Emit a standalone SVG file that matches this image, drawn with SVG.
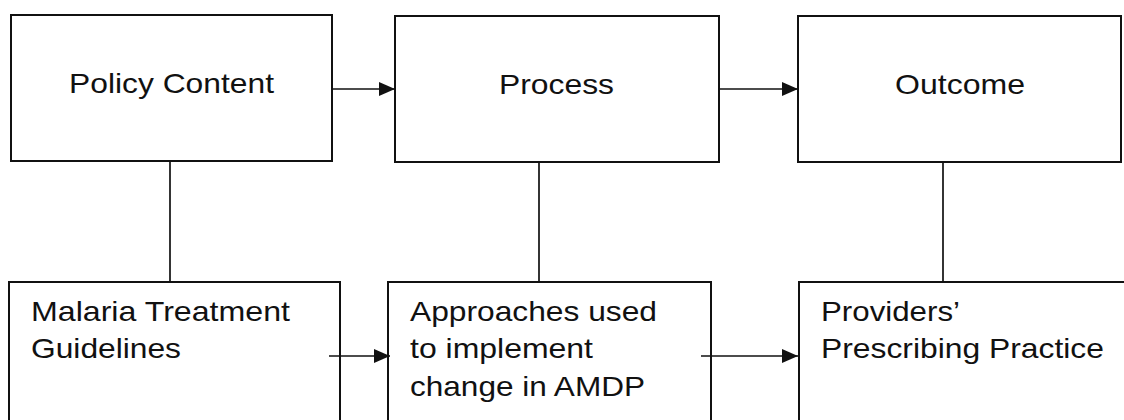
<svg xmlns="http://www.w3.org/2000/svg" width="1124" height="420" viewBox="0 0 1124 420">
<style>
.box{fill:#fff;stroke:#111;stroke-width:2}
.ln{fill:none;stroke:#111;stroke-width:1.7}
.t{font-family:"Liberation Sans",Arial,sans-serif;font-size:28.5px;fill:#111}
</style>
<defs>
<marker id="ah" viewBox="0 0 16 14" refX="16" refY="7" markerWidth="16" markerHeight="14" markerUnits="userSpaceOnUse" orient="auto">
<path d="M0,0 L16,7 L0,14 Z" fill="#111"/>
</marker>
</defs>
<rect width="1124" height="420" fill="#fff"/>
<g id="policy-content">
<rect class="box" x="11" y="15" width="321" height="146"/>
<text class="t" x="69" y="93" textLength="205" lengthAdjust="spacingAndGlyphs">Policy Content</text>
</g>
<g id="process">
<rect class="box" x="395" y="16" width="324" height="146"/>
<text class="t" x="499" y="93.5" textLength="115" lengthAdjust="spacingAndGlyphs">Process</text>
</g>
<g id="outcome">
<rect class="box" x="798" y="16" width="323" height="146"/>
<text class="t" x="895" y="93.5" textLength="130" lengthAdjust="spacingAndGlyphs">Outcome</text>
</g>
<g id="malaria-guidelines">
<rect class="box" x="9" y="282" width="331" height="170"/>
<text class="t" x="31" y="321" textLength="259" lengthAdjust="spacingAndGlyphs">Malaria Treatment</text>
<text class="t" x="31" y="358" textLength="150" lengthAdjust="spacingAndGlyphs">Guidelines</text>
</g>
<g id="approaches">
<rect class="box" x="388" y="282" width="323" height="170"/>
<text class="t" x="410" y="321" textLength="247" lengthAdjust="spacingAndGlyphs">Approaches used</text>
<text class="t" x="410" y="358" textLength="183" lengthAdjust="spacingAndGlyphs">to implement</text>
<text class="t" x="410" y="395.5" textLength="235" lengthAdjust="spacingAndGlyphs">change in AMDP</text>
</g>
<g id="prescribing-practice">
<rect class="box" x="799" y="282" width="360" height="170"/>
<text class="t" x="821" y="321" textLength="139" lengthAdjust="spacingAndGlyphs">Providers’</text>
<text class="t" x="821" y="358" textLength="283" lengthAdjust="spacingAndGlyphs">Prescribing Practice</text>
</g>
<g id="connectors">
<line class="ln" x1="333" y1="89" x2="395" y2="89" marker-end="url(#ah)"/>
<line class="ln" x1="719" y1="89" x2="798" y2="89" marker-end="url(#ah)"/>
<line class="ln" x1="329" y1="356" x2="390" y2="356" marker-end="url(#ah)"/>
<line class="ln" x1="701" y1="356" x2="798" y2="356" marker-end="url(#ah)"/>
<line class="ln" x1="170" y1="161" x2="170" y2="282"/>
<line class="ln" x1="539" y1="162" x2="539" y2="282"/>
<line class="ln" x1="943" y1="162" x2="943" y2="282"/>
</g>
</svg>
